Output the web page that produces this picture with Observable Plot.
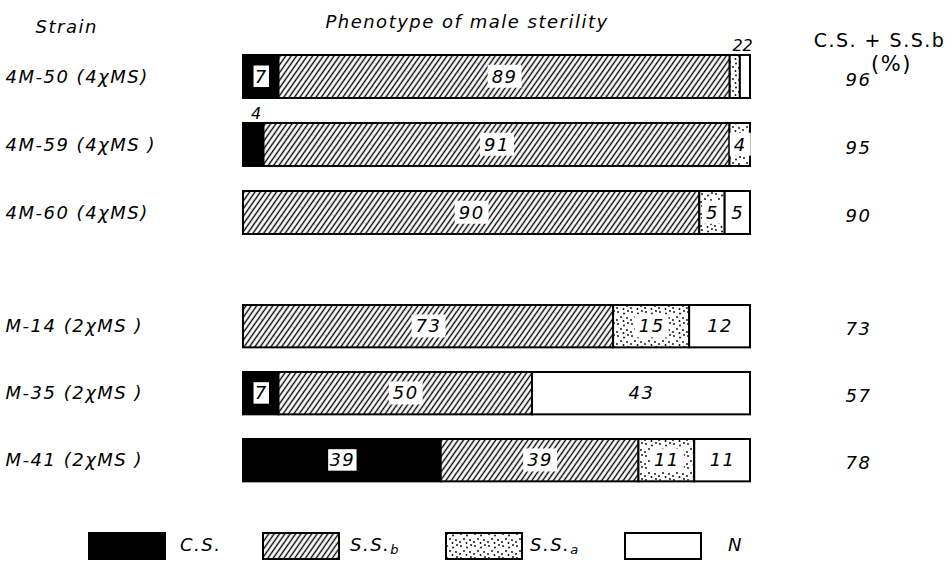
<!DOCTYPE html>
<html>
<head>
<meta charset="utf-8">
<script src="https://cdn.jsdelivr.net/npm/d3@7"></script>
<script src="https://cdn.jsdelivr.net/npm/@observablehq/plot@0.6"></script>
<style>
  body { margin: 0; background: #fff; width: 952px; }
  #legend { position: relative; height: 57px; font-family: "DejaVu Sans", sans-serif; font-style: italic; font-size: 18px; letter-spacing: 1.5px; }
  #legend .sw { position: absolute; top: 17px; }
  #legend .lb { position: absolute; top: 18px; line-height: 24px; }
  #legend sub { font-size: 13px; vertical-align: -3px; }
</style>
</head>
<body>
<div id="chart"></div>
<div id="legend"></div>
<script>
// ---- data ----
const phenotypes = ["C.S.", "S.S.b", "S.S.a", "N"];
const groupA = ["4M-50 (4χMS)", "4M-59 (4χMS )", "4M-60 (4χMS)"];
const groupB = ["M-14 (2χMS )", "M-35 (2χMS )", "M-41 (2χMS )"];
const strains = [...groupA, ...groupB];
const csValues  = [7, 4, 0, 0, 7, 39];
const ssbValues = [89, 91, 90, 73, 50, 39];
const ssaValues = [2, 4, 5, 15, 0, 11];
const nValues   = [2, 0, 5, 12, 43, 11];
const csPlusSsb = [96, 95, 90, 73, 57, 78];
const fills = ["black", "url(#hatch)", "url(#dots)", "white"];

const rows = [];
strains.forEach((s, i) => {
  const vals = [csValues[i], ssbValues[i], ssaValues[i], nValues[i]];
  phenotypes.forEach((p, j) => { if (vals[j] > 0) rows.push({strain: s, phenotype: p, value: vals[j]}); });
});
const totals = strains.map((s, i) => ({strain: s, total: csPlusSsb[i]}));
const above = d => d.value < 4 || (d.phenotype === "C.S." && d.value < 5);

const FONT = "font-family: 'DejaVu Sans', sans-serif; font-size: 18px; font-style: italic; letter-spacing: 1.5px; background: white;";

function chart(group, height, yRange, header) {
  const data = rows.filter(d => group.includes(d.strain));
  const stack = o => Plot.stackX({offset: "normalize", x: "value", y: "strain", ...o});
  const marks = [
    Plot.barX(data, stack({fill: "phenotype", stroke: "black", strokeWidth: 2})),
    Plot.text(data, stack({text: d => (!above(d) && d.phenotype !== "C.S.") ? String(d.value) : "", ariaDescription: "seg-labels", fill: "black"})),
    Plot.text(data, stack({text: d => (!above(d) && d.phenotype === "C.S.") ? String(d.value) : "", ariaDescription: "cs-labels", fill: "black"})),
    Plot.text(data, stack({text: d => above(d) ? String(d.value) : "", dy: -31, dx: 3, fontSize: 16})),
    Plot.text(group, {y: d => d, text: d => d, frameAnchor: "left", textAnchor: "start", dx: -238}),
    Plot.text(totals.filter(d => group.includes(d.strain)), {y: "strain", text: d => String(d.total), frameAnchor: "right", textAnchor: "middle", dx: 108, dy: 3, fontSize: 18})
  ];
  if (header) {
    marks.push(
      Plot.text(["Strain"], {text: d => d, frameAnchor: "top-left", textAnchor: "start", dx: -208, dy: 20}),
      Plot.text(["Phenotype of male sterility"], {text: d => d, frameAnchor: "top", textAnchor: "middle", dx: -30, dy: 15}),
      Plot.text(["C.S. + S.S.b"], {text: d => d, frameAnchor: "top-right", textAnchor: "middle", dx: 129, dy: 33, fontSize: 19, fontStyle: "normal"}),
      Plot.text(["(%)"], {text: d => d, frameAnchor: "top-right", textAnchor: "middle", dx: 141, dy: 56, fontSize: 21, fontStyle: "normal"})
    );
  }
  return Plot.plot({
    width: 952, height,
    marginLeft: 243, marginRight: 202, marginTop: 0, marginBottom: 0,
    style: FONT,
    x: {axis: null, domain: [0, 1]},
    y: {axis: null, domain: group, range: yRange, paddingInner: 0.368, paddingOuter: 0, round: false},
    color: {domain: phenotypes, range: fills},
    marks
  });
}

const svgA = chart(groupA, 262, [55, 55 + 68 * 2.632], true);
const svgB = chart(groupB, 253, [43, 43 + 67 * 2.632], false);
const container = document.getElementById("chart");
container.append(svgA, svgB);

// patterns
const defs = d3.select(svgA).insert("defs", ":first-child");
const hatch = defs.append("pattern").attr("id", "hatch").attr("patternUnits", "userSpaceOnUse")
  .attr("width", 4.4).attr("height", 10).attr("patternTransform", "rotate(35)");
hatch.append("rect").attr("width", 4.4).attr("height", 10).attr("fill", "white");
hatch.append("line").attr("x1", 2.2).attr("x2", 2.2).attr("y1", 0).attr("y2", 10).attr("stroke", "black").attr("stroke-width", 1.4);
const dots = defs.append("pattern").attr("id", "dots").attr("patternUnits", "userSpaceOnUse")
  .attr("width", 14).attr("height", 12);
dots.append("rect").attr("width", 14).attr("height", 12).attr("fill", "white");
[[2,2],[8,3.5],[12,1],[5,7],[11,8],[1,10],[7.5,11]].forEach(([x, y]) =>
  dots.append("circle").attr("cx", x).attr("cy", y).attr("r", 0.9).attr("fill", "black"));

// white boxes behind segment labels
for (const svg of [svgA, svgB]) {
  d3.select(svg).selectAll('g[aria-description="seg-labels"] text, g[aria-description="cs-labels"] text').each(function () {
    if (!this.textContent) return;
    const isCs = this.parentNode.getAttribute("aria-description") === "cs-labels";
    const b = this.getBBox();
    const px = isCs ? 2 : 4, py = 1;
    d3.select(this.parentNode).insert("rect", () => this)
      .attr("x", b.x - px).attr("y", b.y - py)
      .attr("width", b.width + 2 * px).attr("height", b.height + 2 * py)
      .attr("transform", this.getAttribute("transform"))
      .attr("fill", "white").attr("stroke", isCs ? "black" : "none").attr("stroke-width", 1.5);
  });
}

// legend
const legend = d3.select("#legend");
const swLeft = [88, 262, 445, 624];
const lbLeft = [180, 350, 530, 728];
phenotypes.forEach((p, i) => {
  const s = legend.append("svg").attr("class", "sw").style("left", swLeft[i] + "px").attr("width", 78).attr("height", 28);
  s.append("rect").attr("x", 1).attr("y", 1).attr("width", 76).attr("height", 26).attr("fill", fills[i]).attr("stroke", "black").attr("stroke-width", 2);
  const html = p.startsWith("S.S.") ? "S.S.<sub>" + p.slice(4) + "</sub>" : p;
  legend.append("div").attr("class", "lb").style("left", lbLeft[i] + "px").html(html);
});
</script>
</body>
</html>
